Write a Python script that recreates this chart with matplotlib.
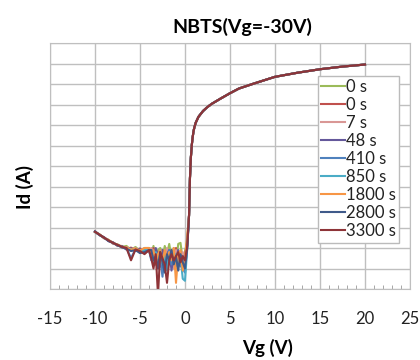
import matplotlib
matplotlib.use("Agg")
import matplotlib.pyplot as plt
from matplotlib.ticker import MultipleLocator, FixedLocator, NullFormatter, NullLocator
import numpy as np

plt.rcParams['font.family'] = ['Lato', 'DejaVu Sans']
plt.rcParams['axes.unicode_minus'] = False

# gate voltage points, off region (noisy) and on region (all curves overlap)
vg_off = [-10, -9.5, -9, -8.5, -8, -7.5, -7, -6.5, -6, -5.5, -5, -4.5,
          -4, -3.75, -3.5, -3.25, -3, -2.75, -2.5, -2.25, -2, -1.75, -1.5,
          -1.25, -1, -0.75, -0.5, -0.25, 0, 0.25]
vg_on = [0.45, 0.55, 0.65, 0.75, 0.85, 0.95, 1.05, 1.2, 1.5, 2.0, 2.5, 3.0, 4.0, 5.0,
         6.0, 7.5, 10, 12.5, 15, 17.5, 20]

# log10(Id)
log_on = [-10.4, -8.6, -7.6, -7.0, -6.6, -6.3, -6.1, -5.88, -5.6, -5.32, -5.12,
          -4.96, -4.7, -4.45, -4.22, -4.0, -3.65, -3.45, -3.28, -3.15, -3.05]

log_off_0a = [-11.22, -11.33, -11.52, -11.6, -11.78, -11.82, -11.95, -11.9, -12.1, -11.95, -12.15, -12.0,
              -12.0, -12.3, -11.9, -12.5, -12.1, -12.0, -12.6, -11.9, -12.3, -11.8, -12.5, -12.0,
              -12.7, -11.8, -11.75, -12.6, -12.2, -11.6]
log_off_0b = [-11.18, -11.38, -11.47, -11.66, -11.72, -11.9, -11.9, -12.05, -11.98, -12.12, -12.02, -12.2,
              -12.1, -12.5, -12.0, -12.8, -12.2, -12.9, -12.1, -12.5, -12.2, -12.8, -12.1, -12.6,
              -12.0, -12.7, -12.2, -12.6, -12.3, -11.7]
log_off_7 = [-11.21, -11.34, -11.53, -11.6, -11.8, -11.83, -12.0, -11.95, -12.1, -12.0, -12.2, -12.05,
             -12.2, -12.0, -12.4, -12.2, -12.7, -12.1, -12.4, -12.6, -12.0, -12.5, -12.4, -13.0,
             -12.1, -12.3, -12.8, -12.2, -13.0, -11.8]
log_off_48 = [-11.19, -11.36, -11.48, -11.67, -11.73, -11.88, -11.92, -12.08, -12.02, -12.15, -12.05, -12.25,
              -12.1, -12.3, -12.6, -12.0, -12.4, -12.9, -12.1, -12.7, -12.3, -12.1, -13.1, -12.3,
              -12.6, -12.1, -12.9, -12.4, -12.7, -11.8]
log_off_410 = [-11.23, -11.35, -11.5, -11.62, -11.77, -11.85, -11.96, -12.0, -12.5, -12.05, -12.1, -12.15,
               -12.1, -12.6, -12.1, -12.8, -12.3, -12.5, -13.4, -12.2, -12.6, -12.1, -12.8, -12.3,
               -12.9, -12.4, -12.2, -13.0, -13.2, -11.9]
log_off_850 = [-11.2, -11.37, -11.49, -11.64, -11.74, -11.87, -11.93, -12.02, -12.05, -12.1, -12.2, -12.1,
               -12.1, -12.2, -12.7, -12.2, -12.5, -12.1, -12.8, -12.3, -13.1, -12.2, -12.6, -12.4,
               -12.3, -12.8, -12.4, -13.5, -13.6, -12.0]
log_off_1800 = [-11.22, -11.34, -11.51, -11.61, -11.76, -11.84, -11.95, -11.98, -12.08, -12.03, -12.12, -12.0,
                -12.0, -12.4, -12.1, -12.8, -12.3, -12.1, -12.7, -12.1, -12.5, -12.2, -12.6, -12.0,
                -13.7, -12.3, -12.1, -13.1, -12.5, -11.4]
log_off_2800 = [-11.2, -11.36, -11.5, -11.65, -11.75, -11.86, -11.97, -12.03, -12.15, -12.1, -12.25, -12.2,
                -12.1, -12.1, -12.6, -12.4, -13.0, -12.2, -12.7, -13.2, -12.3, -12.6, -12.1, -12.8,
                -12.4, -13.1, -12.3, -12.7, -13.0, -12.0]
log_off_3300 = [-11.21, -11.35, -11.49, -11.63, -11.75, -11.85, -11.94, -12.0, -12.6, -12.07, -12.15, -12.3,
                -12.1, -12.5, -13.0, -12.3, -14.3, -12.2, -12.5, -12.8, -13.7, -12.6, -12.3, -12.6,
                -12.4, -12.2, -12.7, -12.4, -12.6, -11.9]

labels = ['0 s', '0 s', '7 s', '48 s', '410 s', '850 s', '1800 s', '2800 s', '3300 s']
off_series = [log_off_0a, log_off_0b, log_off_7, log_off_48, log_off_410,
              log_off_850, log_off_1800, log_off_2800, log_off_3300]
colors = ['#9BBB59', '#C0504D', '#D99795', '#64589B', '#4F81BD',
          '#4BACC6', '#F79646', '#3F5A8A', '#8E3438']

grid_c = '#BFBFBF'

fig = plt.figure(figsize=(4.2, 3.6), dpi=100)
ax = fig.add_axes([50/420, 1-289/360, 360/420, 246/360])

vg = vg_off + vg_on
for lab, off, c in zip(labels, off_series, colors):
    idd = 10.0 ** np.array(off + log_on)
    ax.plot(vg, idd, color=c, lw=1.5, label=lab)

ax.set_yscale('log')
ax.set_xlim(-15, 25)
ax.set_ylim(1e-14, 1e-2)
ax.xaxis.set_major_locator(MultipleLocator(5))
ax.xaxis.set_minor_locator(MultipleLocator(1))
ax.yaxis.set_major_locator(FixedLocator([10.0**k for k in range(-14, -1)]))
ax.yaxis.set_minor_locator(NullLocator())
ax.yaxis.set_major_formatter(NullFormatter())
ax.yaxis.set_minor_formatter(NullFormatter())
ax.grid(True, which='major', color=grid_c, lw=1)
ax.set_axisbelow(True)
ax.tick_params(axis='y', length=0)
ax.tick_params(axis='x', which='major', length=0, pad=16, labelsize=12, colors='#222222')
ax.tick_params(axis='x', which='minor', direction='in', length=3, color='#999999')
for s in ax.spines.values():
    s.set_color(grid_c)

leg = ax.legend(loc='upper left', bbox_to_anchor=(0.744, 0.866), borderaxespad=0,
                fontsize=12, labelspacing=0.12, handlelength=1.4, handletextpad=0.1,
                borderpad=0.2, fancybox=False, framealpha=1, edgecolor='#BBBBBB')
for t in leg.get_texts():
    t.set_color('#222222')

fig.text(242/420, 1-27/360, 'NBTS(Vg=-30V)', ha='center', va='center',
         fontsize=14, fontweight='bold')
fig.text(268/420, 1-348/360, 'Vg (V)', ha='center', va='center',
         fontsize=13.5, fontweight='bold')
fig.text(25/420, 1-187/360, 'Id (A)', ha='center', va='center', rotation=90,
         fontsize=13.5, fontweight='bold')

fig.savefig('out.png', dpi=100)
